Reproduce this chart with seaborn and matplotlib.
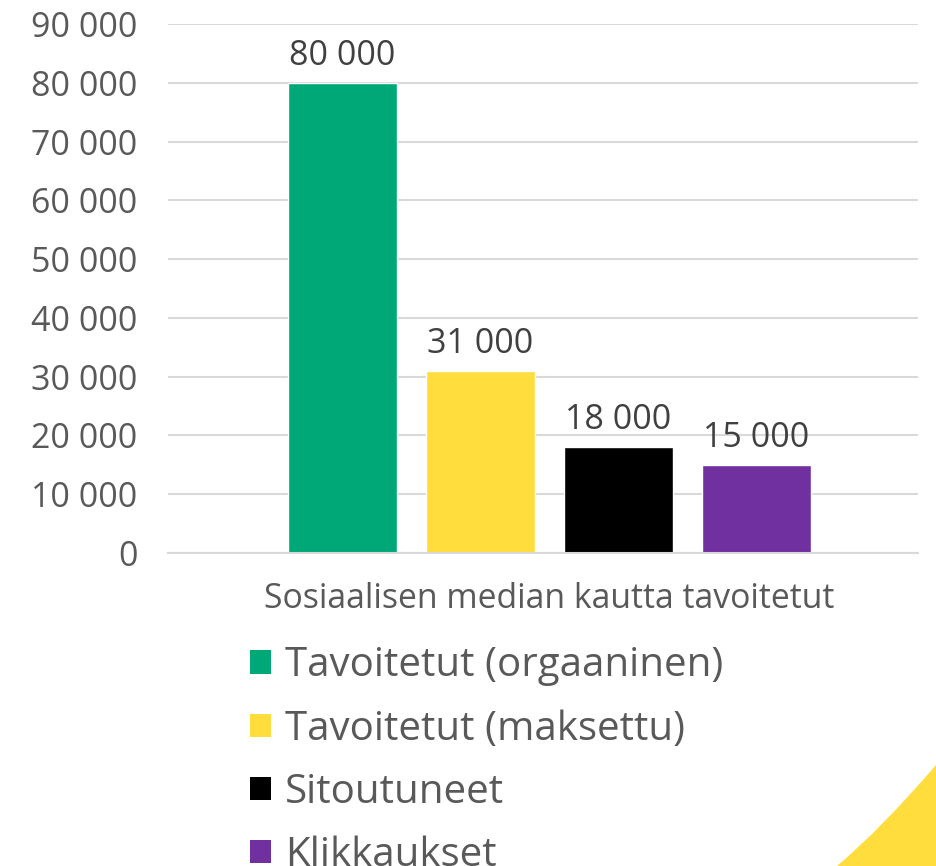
import matplotlib
matplotlib.use("Agg")
import matplotlib.pyplot as plt
from matplotlib.ticker import FuncFormatter, MultipleLocator
from matplotlib.path import Path
from matplotlib.patches import PathPatch, Patch
import pandas as pd
import seaborn as sns

# data
category = ["Sosiaalisen median kautta tavoitetut"]
series = ["Tavoitetut (orgaaninen)", "Tavoitetut (maksettu)", "Sitoutuneet", "Klikkaukset"]
values = [80000, 31000, 18000, 15000]
colors = ["#00A878", "#FFDD3C", "#000000", "#7030A0"]

df = pd.DataFrame({"kategoria": category * len(series), "sarja": series, "arvo": values})

sns.set_theme(style="white")
plt.rcParams["font.family"] = ["Open Sans", "DejaVu Sans"]

fig = plt.figure(figsize=(9.36, 8.66), dpi=100)
ax = fig.add_axes([168 / 936, 1 - 553 / 866, 750 / 936, 529 / 866])

sns.barplot(data=df, x="kategoria", y="arvo", hue="sarja", hue_order=series,
            palette=colors, width=0.8, gap=0.21, saturation=1, ax=ax, legend=False)

def fmt(v, pos=None):
    return f"{int(round(v)):,}".replace(",", " ")

for cont in ax.containers:
    ax.bar_label(cont, labels=[fmt(b.get_height()) for b in cont], padding=7,
                 fontsize=24.5, color="#404040")

ax.set_ylim(0, 90000)
ax.set_xlim(-0.553, 0.534)
ax.yaxis.set_major_locator(MultipleLocator(10000))
ax.yaxis.set_major_formatter(FuncFormatter(fmt))
ax.grid(axis="y", color="#D9D9D9", linewidth=1.5)
ax.set_axisbelow(True)
for s in ["left", "right", "top"]:
    ax.spines[s].set_visible(False)
ax.spines["bottom"].set_color("#D9D9D9")
ax.spines["bottom"].set_linewidth(1.5)
ax.tick_params(axis="y", length=0, pad=22, labelsize=24.5, labelcolor="#595959")
ax.tick_params(axis="x", length=0, pad=21, labelsize=24.3, labelcolor="#595959")
ax.set_xlabel("")
ax.set_ylabel("")

handles = [Patch(facecolor=c, edgecolor="none") for c in colors]
fig.legend(handles, series, loc="upper left", bbox_to_anchor=(250 / 936, 1 - 646 / 866),
           frameon=False, fontsize=29, labelcolor="#595959", handlelength=0.52,
           handleheight=0.52, handletextpad=0.35, labelspacing=0.56, borderpad=0,
           borderaxespad=0)

# yellow corner decoration
W, H = 936, 866
verts = [(936 / W, 1 - 765 / H), (881 / W, 1 - 829 / H), (837 / W, 1 - 866 / H),
         (936 / W, 1 - 866 / H), (936 / W, 1 - 765 / H)]
codes = [Path.MOVETO, Path.CURVE3, Path.CURVE3, Path.LINETO, Path.CLOSEPOLY]
fig.patches.append(PathPatch(Path(verts, codes), transform=fig.transFigure,
                             facecolor="#FFDD3C", edgecolor="none"))

fig.savefig("out.png", dpi=100)
